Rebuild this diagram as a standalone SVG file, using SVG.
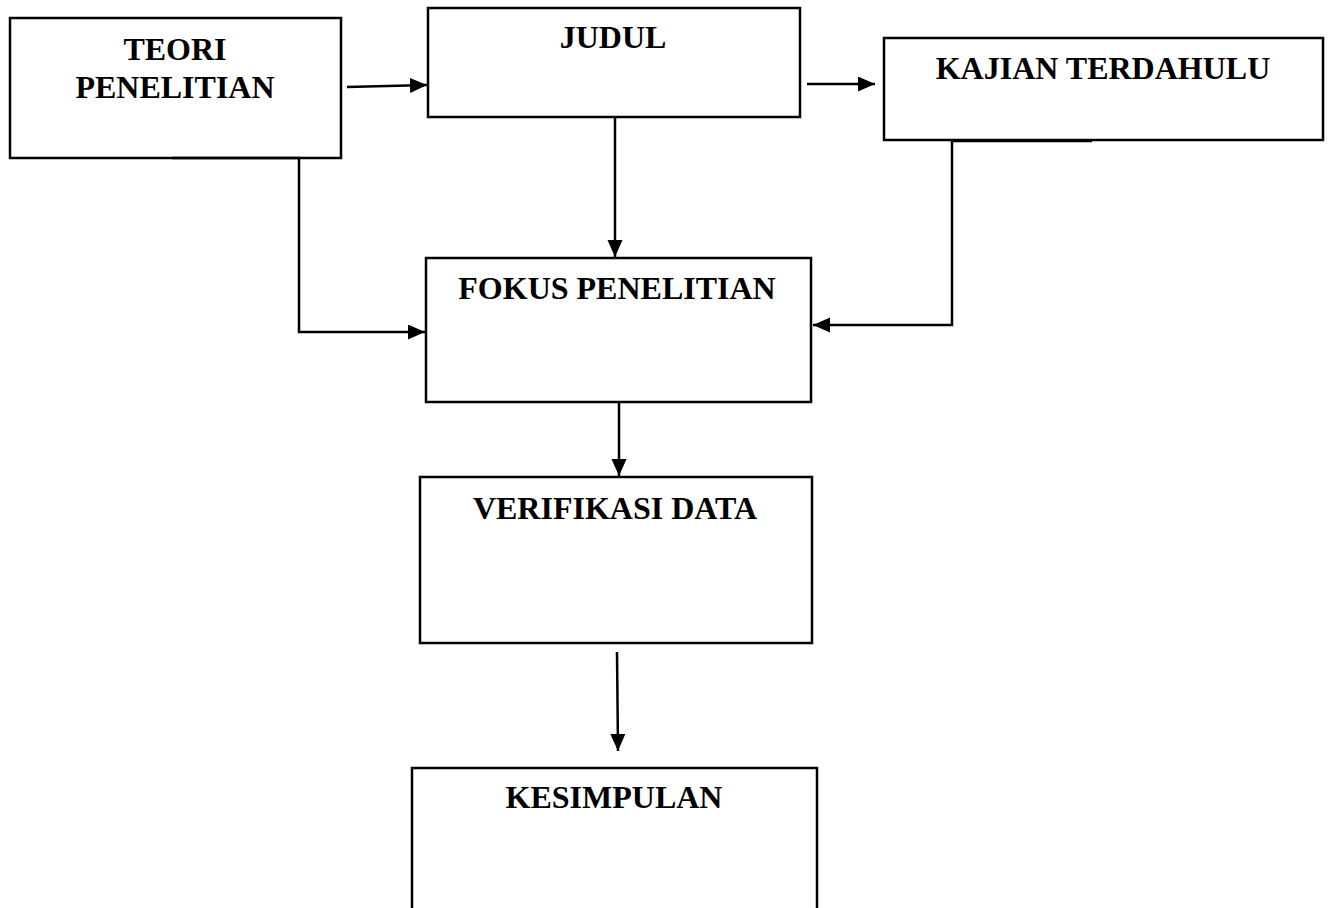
<svg xmlns="http://www.w3.org/2000/svg" width="1331" height="908" viewBox="0 0 1331 908">
<style>
.box{fill:#fff;stroke:#000;stroke-width:2.5}
.lbl{font-family:"Liberation Serif","Times New Roman",serif;font-weight:bold;font-size:32px;fill:#000;text-anchor:middle}
.con{fill:none;stroke:#000;stroke-width:2.5;marker-end:url(#arr)}
</style>
<defs>
<marker id="arr" markerUnits="userSpaceOnUse" markerWidth="18" markerHeight="16" refX="17" refY="7.5" orient="auto">
<path d="M0,0 L17,7.5 L0,15 z" fill="#000"/>
</marker>
</defs>
<rect width="1331" height="908" fill="#fff"/>
<g id="teori"><rect class="box" x="10" y="18" width="331" height="140"/><text class="lbl" x="175" y="60">TEORI</text><text class="lbl" x="175" y="98">PENELITIAN</text></g>
<g id="judul"><rect class="box" x="428" y="8" width="372" height="109"/><text class="lbl" x="613" y="48">JUDUL</text></g>
<g id="kajian"><rect class="box" x="884" y="38" width="439" height="102"/><text class="lbl" x="1103" y="79">KAJIAN TERDAHULU</text></g>
<g id="fokus"><rect class="box" x="426" y="258" width="385" height="144"/><text class="lbl" x="617" y="299">FOKUS PENELITIAN</text></g>
<g id="verifikasi"><rect class="box" x="420" y="477" width="392" height="166"/><text class="lbl" x="615" y="519">VERIFIKASI DATA</text></g>
<g id="kesimpulan"><rect class="box" x="412" y="768" width="405" height="150"/><text class="lbl" x="614" y="808">KESIMPULAN</text></g>
<g id="connectors">
<path class="con" d="M347,87 L427,85"/>
<path class="con" d="M807,84 L875,84"/>
<path class="con" d="M615,117 V257"/>
<path class="con" d="M172,158 H299 V332 H425"/>
<path class="con" d="M1092,141 H952 V325 H813"/>
<path class="con" d="M619,401 V476"/>
<path class="con" d="M617,652 L618,751"/>
</g>
</svg>
